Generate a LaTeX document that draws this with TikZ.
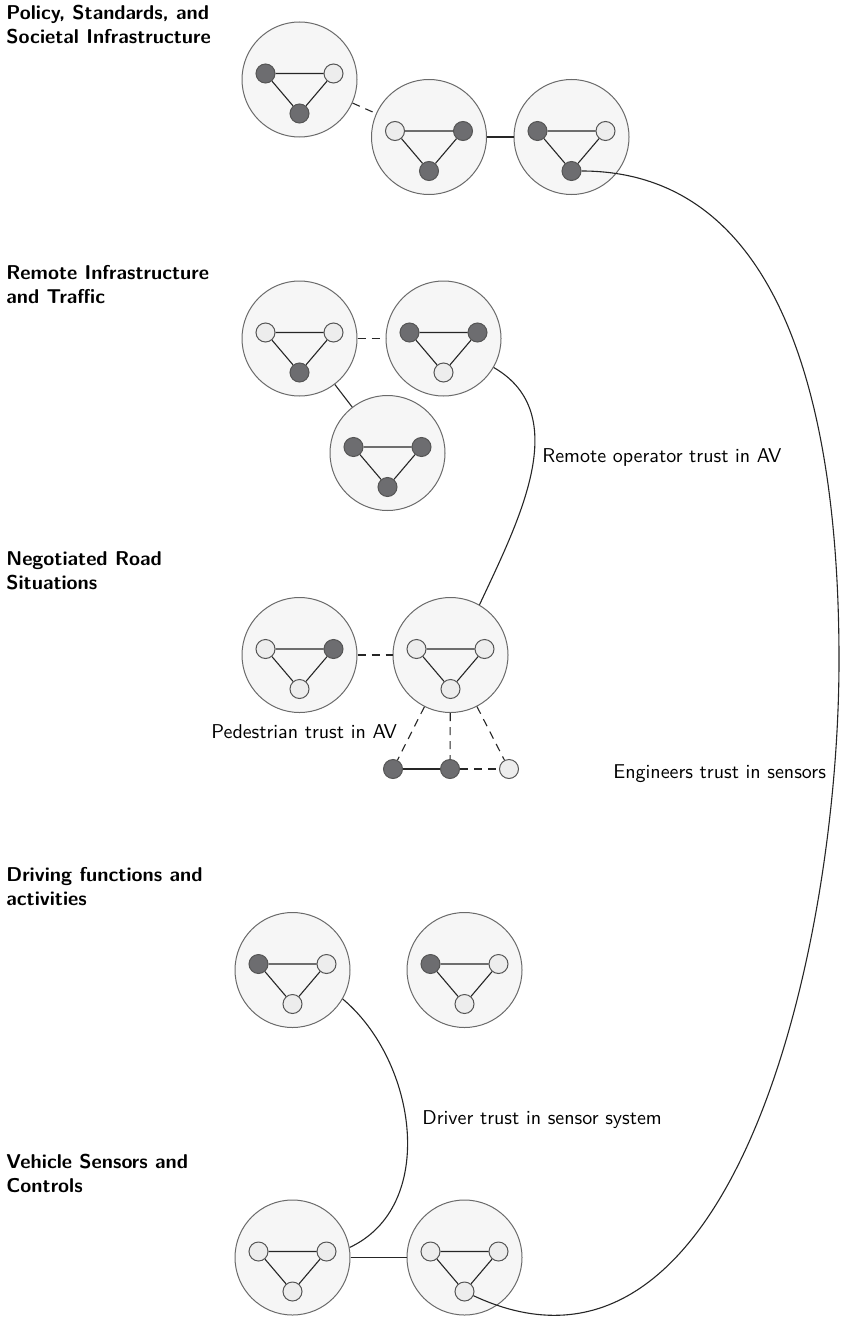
\documentclass[tikz,border=0pt]{standalone}
\usepackage{tikz}
\renewcommand{\familydefault}{\sfdefault}

\definecolor{groupfill}{HTML}{F6F6F6}
\definecolor{groupline}{HTML}{6A6A6A}
\definecolor{darkfill}{HTML}{6D6D70}
\definecolor{lightfill}{HTML}{EDEDED}
\definecolor{nodeline}{HTML}{555555}

\tikzset{
	group/.style={circle, draw=groupline, fill=groupfill, line width=0.5pt, minimum size=57.5pt, inner sep=0pt},
	agent/.style={circle, draw=nodeline, line width=0.5pt, minimum size=9.5pt, inner sep=0pt},
	dark/.style={agent, fill=darkfill},
	light/.style={agent, fill=lightfill},
	link/.style={draw=black!85, line width=0.55pt},
	weak/.style={link, dash pattern=on 4pt off 3pt},
	layer/.style={anchor=north west, align=left, inner sep=0pt, font=\bfseries},
	trust/.style={anchor=base west, inner sep=0pt},
}

% one group: big circle with three agents in a triangle
\newcommand{\trio}[5]{%
	\node [group] (#1) at (#2) {};
	\node [#3] (#1-l) at ([shift={(-34,6)}]#1) {};
	\node [#4] (#1-r) at ([shift={(34,6)}]#1) {};
	\node [#5] (#1-b) at ([shift={(0,-34)}]#1) {};
	\draw [link] (#1-l) -- (#1-r) -- (#1-b) -- (#1-l);
}

\begin{document}
\begin{tikzpicture}[x=0.5pt, y=0.5pt]
	\useasboundingbox (0,0) rectangle (841,-1322);

	% layer titles
	\node [layer] (T1) at (6,-5) {Policy, Standards, and\\Societal Infrastructure};
	\node [layer] (T2) at (6,-265) {Remote Infrastructure\\and Traffic};
	\node [layer] (T3) at (6,-551) {Negotiated Road\\Situations};
	\node [layer] (T4) at (6,-867) {Driving functions and\\activities};
	\node [layer] (T5) at (6,-1154) {Vehicle Sensors and\\Controls};

	% policy
	\trio{P1}{299.5,-79.5}{dark}{light}{dark}
	\trio{P2}{429,-137}{light}{dark}{dark}
	\trio{P3}{571.5,-137}{dark}{light}{dark}
	\draw [weak] (P1) -- (P2);
	\draw [link] (P2) -- (P3);

	% remote
	\trio{R1}{299.5,-338.5}{light}{light}{dark}
	\trio{R2}{443.5,-338.5}{dark}{dark}{light}
	\trio{R3}{387.5,-453}{dark}{dark}{dark}
	\draw [weak] (R1) -- (R2);
	\draw [link] (R1) -- (R3);

	% negotiated
	\trio{N1}{299.5,-655}{light}{dark}{light}
	\trio{N2}{450.5,-655}{light}{light}{light}
	\node [dark] (S1) at (393,-769) {};
	\node [dark] (S2) at (450,-769) {};
	\node [light] (S3) at (509,-769) {};
	\draw [weak] (N1) -- (N2);
	\draw [weak] (N2) -- (S1);
	\draw [weak] (N2) -- (S2);
	\draw [weak] (N2) -- (S3);
	\draw [link] (S1) -- (S2);
	\draw [weak] (S2) -- (S3);

	% driving
	\trio{D1}{292.5,-970}{dark}{light}{light}
	\trio{D2}{464.5,-970}{dark}{light}{light}

	% vehicle
	\trio{V1}{292.5,-1257.5}{light}{light}{light}
	\trio{V2}{464.5,-1257.5}{light}{light}{light}
	\draw [link] (V1) -- (V2);

	% trust relations
	\draw [link] (R2.-30) to[out=-30,in=65] (N2.60);
	\draw [link] (D1.-30) to[out=-40,in=25] (V1.10);
	\coordinate (bend) at (839,-660);
	\draw [link] (P3-b) to[out=0,in=90] (bend) to[out=-90,in=-25] (V2-b);

	\node [trust] (L1) at (542,-462) {Remote operator trust in AV};
	\node [trust] (L2) at (211,-738) {Pedestrian trust in AV};
	\node [trust] (L3) at (613,-778) {Engineers trust in sensors};
	\node [trust] (L4) at (422,-1124) {Driver trust in sensor system};
\end{tikzpicture}
\end{document}
